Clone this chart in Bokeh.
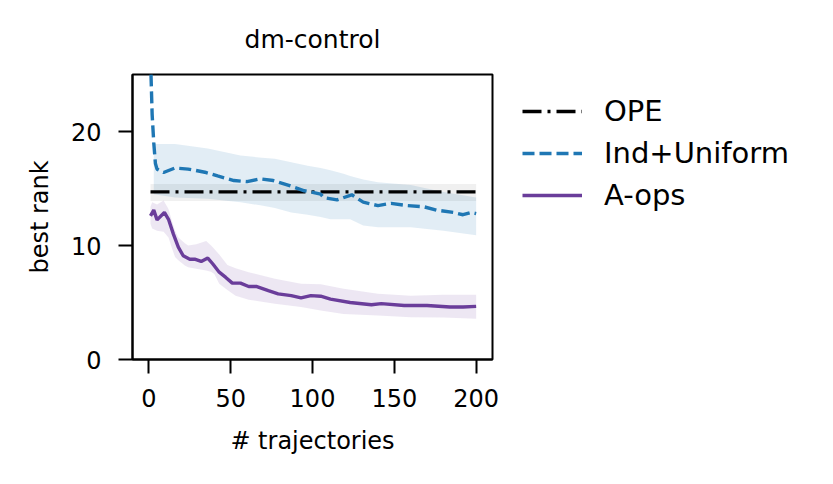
from bokeh.plotting import figure
from bokeh.models import Legend, LegendItem, Range1d
from bokeh.embed import file_html
from bokeh.resources import INLINE

# ---------------- data ----------------
ope_x = [1, 200]
ope_mean = [14.7, 14.7]
ope_lo = [13.9, 13.9]
ope_hi = [15.4, 15.4]

ind_x = [1, 2, 3, 4, 5, 9, 16, 24, 28, 35, 42, 52, 60, 68, 76, 85, 95, 99,
         105, 107, 115, 124, 131, 140, 148, 158, 168, 176, 186, 192, 197, 200]
ind_mean = [26.5, 21.5, 19.0, 17.2, 16.7, 16.4, 16.8, 16.7, 16.6, 16.4, 16.1,
            15.7, 15.6, 15.85, 15.7, 15.3, 14.8, 14.7, 14.5, 14.2, 14.0, 14.45,
            13.8, 13.5, 13.7, 13.5, 13.4, 13.1, 12.9, 12.7, 12.9, 12.8]

ind_band_x = [3, 16, 36, 56, 69, 77, 87, 97, 105, 111, 119, 123, 131, 140,
              160, 180, 200]
ind_hi = [18.9, 18.9, 18.5, 17.9, 17.7, 17.6, 17.3, 17.0, 16.8, 16.6, 16.3,
          16.1, 15.8, 15.55, 15.3, 14.7, 14.2]
ind_lo = [14.5, 14.2, 14.1, 13.8, 13.5, 13.3, 12.9, 12.7, 12.5, 12.3, 12.3,
          12.3, 11.75, 11.6, 11.6, 11.3, 10.9]

aops_x = [1, 3, 5, 9.5, 12, 15, 18, 21, 25, 28, 32, 36, 39, 43, 47, 51, 56,
          61, 66, 73, 79, 87, 93, 99, 105, 111, 123, 136, 142, 156, 170, 184,
          192, 200]
aops_mean = [12.6, 13.1, 12.25, 12.9, 12.3, 11.0, 9.85, 9.1, 8.8, 8.8, 8.6,
             8.9, 8.4, 7.66, 7.2, 6.7, 6.7, 6.4, 6.4, 6.05, 5.76, 5.6, 5.4,
             5.6, 5.55, 5.3, 5.0, 4.8, 4.9, 4.74, 4.74, 4.6, 4.6, 4.66]

aops_band_x = [1, 2, 5, 9, 12, 14, 16, 18, 22, 24, 29, 35, 38, 40, 43, 48,
               53, 61, 77, 93, 105, 119, 140, 160, 180, 200]
aops_hi = [13.4, 13.8, 13.6, 13.95, 13.2, 12.2, 11.3, 10.7, 10.2, 10.0, 10.1,
           10.4, 10.0, 9.7, 9.2, 8.3, 8.0, 7.66, 7.08, 6.64, 6.6, 6.2, 5.76,
           5.6, 5.67, 5.67]
aops_lo = [11.9, 11.5, 11.3, 11.2, 10.7, 9.8, 9.0, 8.7, 8.25, 8.1, 7.96, 7.8,
           7.7, 7.5, 6.64, 6.1, 5.6, 5.25, 4.9, 4.6, 4.3, 4.0, 3.86, 3.71,
           3.68, 3.57]

x_ticks = [0, 50, 100, 150, 200]
y_ticks = [0, 10, 20]
labels = ["OPE", "Ind+Uniform", "A-ops"]

# ---------------- styling ----------------
FONT = "DejaVu Sans"
BLUE = "#1f77b4"
PURPLE = "#6a3d9a"

p = figure(frame_width=360, frame_height=285,
           min_border_left=132, min_border_top=74,
           min_border_right=317, min_border_bottom=109,
           x_range=Range1d(-10, 210), y_range=Range1d(0, 25),
           output_backend="svg", toolbar_location=None,
           title="dm-control")

p.title.align = "center"
p.title.text_font = FONT
p.title.text_font_size = "25px"
p.title.text_font_style = "normal"
p.title.text_color = "black"
p.title.standoff = 42

p.xgrid.visible = False
p.ygrid.visible = False
p.outline_line_color = "black"
p.outline_line_width = 2
p.outline_line_alpha = 1

p.xaxis.ticker = x_ticks
p.yaxis.ticker = y_ticks
for ax in (p.xaxis, p.yaxis):
    ax.axis_line_width = 2
    ax.axis_line_color = "black"
    ax.major_tick_out = 14
    ax.major_tick_in = 0
    ax.minor_tick_out = 0
    ax.minor_tick_in = 0
    ax.major_tick_line_width = 2
    ax.major_tick_line_color = "black"
    ax.major_label_text_font = FONT
    ax.major_label_text_font_size = "24px"
    ax.major_label_text_color = "black"
    ax.axis_label_text_font = FONT
    ax.axis_label_text_font_size = "24px"
    ax.axis_label_text_font_style = "normal"
    ax.axis_label_text_color = "black"
p.xaxis.major_label_standoff = 15
p.yaxis.major_label_standoff = 17
p.xaxis.axis_label = "# trajectories"
p.yaxis.axis_label = "best rank"
p.xaxis.axis_label_standoff = 17
p.yaxis.axis_label_standoff = 14

# bands
p.varea(x=ind_band_x, y1=ind_lo, y2=ind_hi, fill_color=BLUE, fill_alpha=0.13)
p.varea(x=aops_band_x, y1=aops_lo, y2=aops_hi, fill_color=PURPLE, fill_alpha=0.12)
p.varea(x=ope_x, y1=ope_lo, y2=ope_hi, fill_color="black", fill_alpha=0.06)

# lines
r_ope = p.line(ope_x, ope_mean, line_color="black", line_width=3.4, line_dash="19 6 3 6")
r_ind = p.line(ind_x, ind_mean, line_color=BLUE, line_width=3.4, line_dash="12 5")
r_aops = p.line(aops_x, aops_mean, line_color=PURPLE, line_width=3.4)

legend = Legend(items=[LegendItem(label=labels[0], renderers=[r_ope]),
                       LegendItem(label=labels[1], renderers=[r_ind]),
                       LegendItem(label=labels[2], renderers=[r_aops])],
                location=(30, 147))
legend.padding = 0
legend.margin = 0
legend.border_line_color = None
legend.background_fill_alpha = 0
legend.glyph_width = 60
legend.glyph_height = 34
legend.label_height = 34
legend.spacing = 8
legend.label_standoff = 22
legend.label_text_font = FONT
legend.label_text_font_size = "29px"
legend.label_text_color = "black"
p.add_layout(legend, "right")

open("out.html", "w").write(file_html(p, INLINE))
